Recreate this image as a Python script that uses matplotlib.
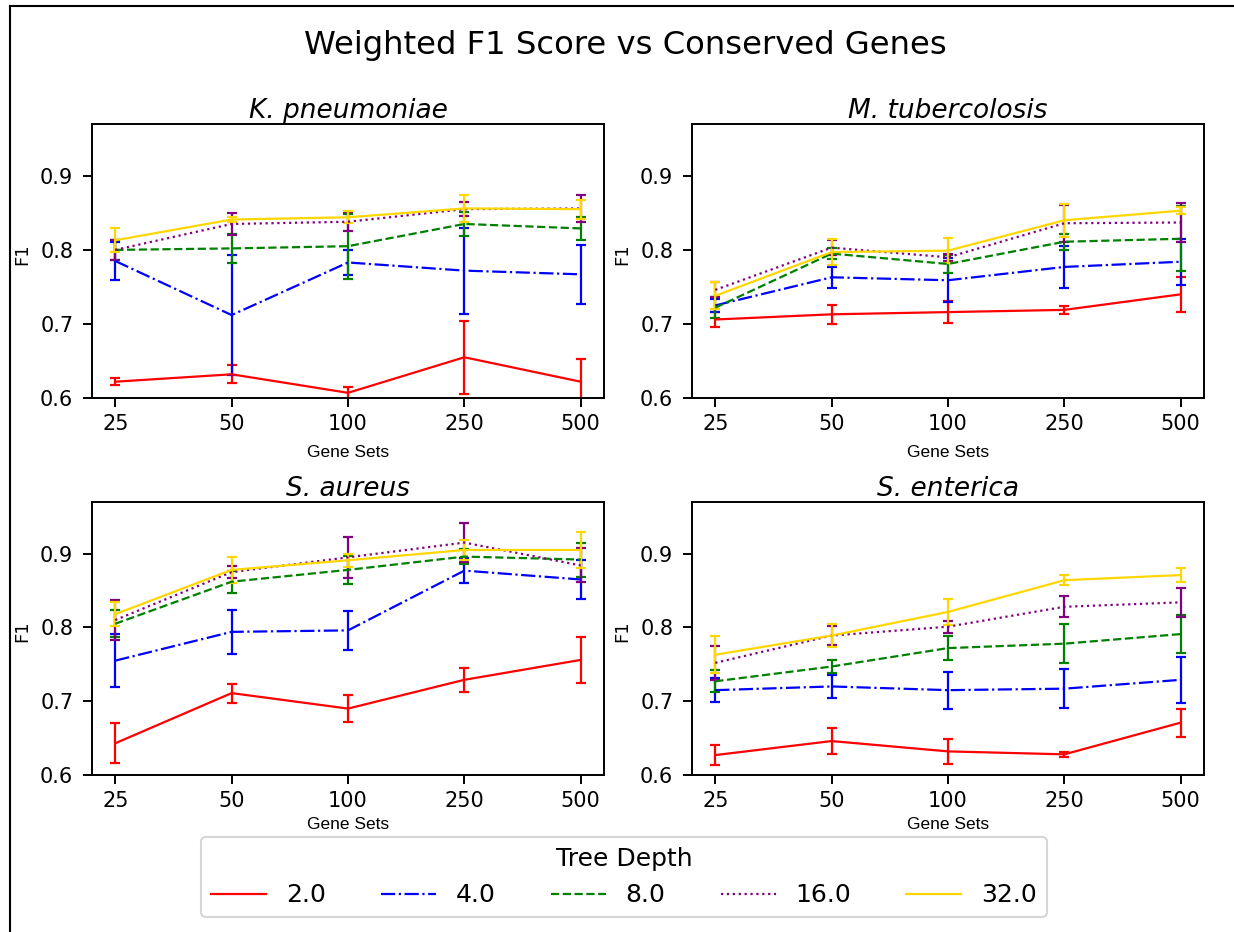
import matplotlib
matplotlib.use("Agg")
from matplotlib import pyplot as plt
from matplotlib.lines import Line2D
import numpy as np

gene_sets = ['25', '50', '100', '250', '500']
depths = ['2.0', '4.0', '8.0', '16.0', '32.0']
colors = ['red', 'blue', 'green', 'purple', 'gold']
styles = ['-', '-.', '--', ':', '-']
species = ['K. pneumoniae', 'M. tubercolosis', 'S. aureus', 'S. enterica']

# mean F1 per tree depth, one list per gene set size
kp_f1 = [[0.622, 0.632, 0.607, 0.655, 0.622],
         [0.785, 0.712, 0.783, 0.772, 0.767],
         [0.800, 0.802, 0.805, 0.835, 0.829],
         [0.800, 0.835, 0.838, 0.855, 0.856],
         [0.813, 0.841, 0.844, 0.856, 0.855]]
kp_err = [[0.005, 0.012, 0.008, 0.049, 0.031],
          [0.026, 0.081, 0.017, 0.058, 0.040],
          [0.014, 0.020, 0.044, 0.016, 0.015],
          [0.014, 0.015, 0.013, 0.009, 0.018],
          [0.016, 0.003, 0.008, 0.018, 0.013]]

mt_f1 = [[0.706, 0.713, 0.716, 0.719, 0.740],
         [0.725, 0.763, 0.759, 0.777, 0.784],
         [0.722, 0.795, 0.781, 0.811, 0.815],
         [0.746, 0.803, 0.790, 0.836, 0.837],
         [0.738, 0.797, 0.799, 0.840, 0.853]]
mt_err = [[0.010, 0.013, 0.015, 0.005, 0.024],
          [0.009, 0.014, 0.030, 0.028, 0.031],
          [0.014, 0.007, 0.012, 0.011, 0.044],
          [0.010, 0.010, 0.005, 0.025, 0.026],
          [0.018, 0.018, 0.017, 0.022, 0.005]]

sa_f1 = [[0.643, 0.711, 0.690, 0.729, 0.756],
         [0.755, 0.794, 0.796, 0.877, 0.865],
         [0.805, 0.862, 0.878, 0.896, 0.892],
         [0.810, 0.875, 0.895, 0.915, 0.884],
         [0.818, 0.878, 0.891, 0.905, 0.905]]
sa_err = [[0.027, 0.013, 0.018, 0.016, 0.031],
          [0.036, 0.030, 0.026, 0.017, 0.027],
          [0.018, 0.015, 0.019, 0.010, 0.023],
          [0.027, 0.008, 0.028, 0.026, 0.023],
          [0.016, 0.018, 0.009, 0.014, 0.024]]

se_f1 = [[0.627, 0.646, 0.632, 0.628, 0.671],
         [0.715, 0.720, 0.715, 0.717, 0.729],
         [0.727, 0.747, 0.772, 0.778, 0.791],
         [0.752, 0.789, 0.801, 0.828, 0.834],
         [0.763, 0.789, 0.821, 0.864, 0.871]]
se_err = [[0.013, 0.018, 0.017, 0.003, 0.019],
          [0.016, 0.016, 0.025, 0.026, 0.031],
          [0.015, 0.009, 0.016, 0.026, 0.026],
          [0.023, 0.013, 0.008, 0.014, 0.020],
          [0.025, 0.015, 0.018, 0.007, 0.010]]

all_f1 = [kp_f1, mt_f1, sa_f1, se_f1]
all_err = [kp_err, mt_err, sa_err, se_err]

W, H = 1234, 932
fig = plt.figure(figsize=(W / 100, H / 100), dpi=100)

# axes boxes in pixels: left, top, right, bottom
boxes = [(92, 124, 604, 398), (692, 124, 1204, 398),
         (92, 502, 604, 775), (692, 502, 1204, 775)]
label_y = [-0.2, -0.2, -0.183, -0.183]

x = np.arange(len(gene_sets))
handles = []
for k in range(4):
    l, t, r, b = boxes[k]
    ax = fig.add_axes([l / W, 1 - b / H, (r - l) / W, (b - t) / H])
    for i in range(len(depths)):
        eb = ax.errorbar(x, all_f1[k][i], yerr=all_err[k][i], color=colors[i],
                         linestyle=styles[i], linewidth=1.6, elinewidth=1.6,
                         capsize=3.6, capthick=1.6, label=depths[i])
        eb[-1][0].set_linestyle('-')
        if k == 0:
            handles.append(Line2D([], [], color=colors[i], linestyle=styles[i], linewidth=1.6))
    ax.set_xlim(-0.2, 4.2)
    ax.set_ylim(0.6, 0.97)
    ax.set_yticks([0.6, 0.7, 0.8, 0.9])
    ax.set_xticks(x)
    ax.set_xticklabels(gene_sets)
    ax.tick_params(axis='both', labelsize=15, length=6.5, width=1.4)
    ax.tick_params(axis='x', pad=5)
    ax.tick_params(axis='y', pad=7)
    for sp in ax.spines.values():
        sp.set_linewidth(1.4)
    ax.set_title(species[k], fontsize=19, fontstyle='italic', pad=3.5)
    ax.set_ylabel('F1', fontsize=13, va='center')
    ax.yaxis.set_label_coords(-0.137, 0.525)
    ax.set_xlabel('Gene Sets', fontsize=12.5, family=['Liberation Sans', 'DejaVu Sans'], va='center')
    ax.xaxis.set_label_coords(0.5, label_y[k])

fig.text(625 / W, 1 - 54 / H, 'Weighted F1 Score vs Conserved Genes',
         fontsize=23.2, ha='center', va='baseline')

leg = fig.legend(handles, depths, loc='center', bbox_to_anchor=(624 / W, 1 - 877 / H),
                 ncol=5, fontsize=18, title='Tree Depth', title_fontsize=18,
                 handlelength=2.2, columnspacing=2.2, frameon=True)
leg.get_frame().set_linewidth(1.5)

# outer figure frame, only left and top edges fall inside the picture
fig.add_artist(Line2D([9.5 / W, 9.5 / W], [-0.1, 1 - 5.5 / H], color='black', linewidth=1.5,
                      transform=fig.transFigure))
fig.add_artist(Line2D([9.5 / W, 1.1], [1 - 5.5 / H, 1 - 5.5 / H], color='black', linewidth=1.5,
                      transform=fig.transFigure))

fig.savefig('out.png', dpi=100)
